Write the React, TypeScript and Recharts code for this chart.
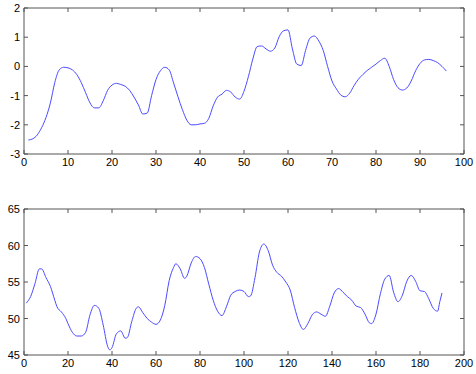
import React from 'react';
import { LineChart, Line, XAxis, YAxis, ReferenceLine } from 'recharts';

// top panel: samples 1..96
const topValues = [
  -2.52, -2.48, -2.35, -2.1, -1.75, -1.25, -0.55, -0.12, -0.03, -0.05,
  -0.12, -0.28, -0.55, -0.9, -1.25, -1.42, -1.42, -1.18, -0.82, -0.64,
  -0.58, -0.62, -0.68, -0.82, -1.05, -1.32, -1.63, -1.6, -1.0, -0.45,
  -0.15, -0.03, -0.12, -0.57, -1.04, -1.48, -1.84, -2.0, -2.0, -1.97,
  -1.95, -1.78, -1.35, -1.05, -0.95, -0.82, -0.88, -1.05, -1.12, -0.85,
  -0.35, 0.25, 0.68, 0.7, 0.6, 0.52, 0.63, 1.02, 1.22, 1.25,
  0.6, 0.08, 0.03, 0.55, 0.97, 1.04, 0.87, 0.55, 0.0, -0.5,
  -0.77, -0.98, -1.04, -0.92, -0.66, -0.44, -0.28, -0.14, -0.03, 0.08,
  0.2, 0.28, 0.0, -0.45, -0.73, -0.81, -0.74, -0.5, -0.15, 0.1,
  0.22, 0.24, 0.2, 0.13, 0.0, -0.16,
];
const topXTicks = [0, 10, 20, 30, 40, 50, 60, 70, 80, 90, 100];
const topYTicks = [-3, -2, -1, 0, 1, 2];

// bottom panel
const bottomX = [
  1, 3, 5, 7, 8, 10, 12, 14, 15, 17, 19, 20, 22, 24, 26, 28, 30, 32, 34, 36,
  38, 39, 40, 42, 44, 46, 47, 49, 51, 52, 54, 56, 58, 60, 62, 64, 66, 68, 69, 71,
  73, 74, 76, 78, 80, 82, 84, 86, 88, 90, 92, 94, 96, 98, 100, 102, 103, 105, 107, 109,
  111, 113, 115, 117, 119, 121, 123, 125, 127, 129, 131, 133, 135, 137, 139, 141, 143, 145, 147, 149,
  151, 153, 155, 157, 158, 160, 162, 164, 166, 168, 170, 172, 174, 176, 178, 180, 182, 184, 186, 188,
  189, 190,
];
const bottomValues = [
  52.1, 53.0, 54.8, 56.8, 56.8, 55.6, 54.4, 52.5, 51.6, 50.9, 50.0, 49.3, 48.1, 47.6, 47.6, 48.1, 50.5, 51.8, 51.4, 49.1,
  46.2, 45.7, 46.0, 47.9, 48.3, 47.3, 47.4, 49.6, 51.4, 51.6, 50.8, 50.0, 49.5, 49.2, 49.8, 51.8, 55.2, 57.0, 57.5, 56.8,
  55.5, 55.8, 57.6, 58.5, 58.2, 57.0, 54.7, 52.5, 51.0, 50.4, 51.6, 53.2, 53.7, 53.9, 53.7, 53.0, 53.1, 55.6, 59.1, 60.2,
  59.3, 57.3, 56.3, 55.8, 55.0, 53.9, 51.5, 49.5, 48.5, 49.3, 50.5, 50.9, 50.6, 50.3, 51.7, 53.5, 54.1, 53.6, 53.0, 52.5,
  51.7, 51.5, 50.6, 49.4, 49.3, 50.6, 53.4, 55.4, 55.9, 53.6, 52.3, 53.2, 55.1, 55.9, 55.1, 53.8, 53.7, 52.7, 51.4, 51.0,
  52.3, 53.5,
];
const bottomXTicks = [0, 20, 40, 60, 80, 100, 120, 140, 160, 180, 200];
const bottomYTicks = [45, 50, 55, 60, 65];

const topData = topValues.map((v, i) => ({ t: i + 1, v }));
const bottomData = bottomX.map((t, i) => ({ t, v: bottomValues[i] }));

const FRAME = '#555';
const LINE = '#4b4bff';
const FONT = '"Liberation Sans", Arial, sans-serif';
const TICK_LEN = 4;
// plot box size, from the margins below
const PLOT_W = 440;
const PLOT_H = 146;

// bottom tick also draws the matching tick on the top edge
const BottomTick = (props: any) => {
  const { x, y, payload } = props;
  return (
    <g>
      <line x1={x} y1={y} x2={x} y2={y - TICK_LEN} stroke={FRAME} />
      <line x1={x} y1={y - PLOT_H} x2={x} y2={y - PLOT_H + TICK_LEN} stroke={FRAME} />
      <text x={x} y={y + 12} textAnchor="middle" fontSize={11} fontFamily={FONT} fill="#000">
        {payload.value}
      </text>
    </g>
  );
};

// left tick also draws the matching tick on the right edge
const LeftTick = (props: any) => {
  const { x, y, payload } = props;
  return (
    <g>
      <line x1={x} y1={y} x2={x + TICK_LEN} y2={y} stroke={FRAME} />
      <line x1={x + PLOT_W} y1={y} x2={x + PLOT_W - TICK_LEN} y2={y} stroke={FRAME} />
      <text x={x - 4} y={y + 4} textAnchor="end" fontSize={11} fontFamily={FONT} fill="#000">
        {payload.value}
      </text>
    </g>
  );
};

function Panel({ data, xDomain, xTicks, yDomain, yTicks, height, margin }: any) {
  return (
    <LineChart width={476} height={height} data={data} margin={margin}>
      <XAxis
        dataKey="t"
        type="number"
        domain={xDomain}
        allowDataOverflow
        ticks={xTicks}
        interval={0}
        height={20}
        tickSize={0}
        tickMargin={0}
        tickLine={false}
        axisLine={{ stroke: FRAME }}
        tick={BottomTick}
      />
      <YAxis
        type="number"
        domain={yDomain}
        allowDataOverflow
        ticks={yTicks}
        interval={0}
        width={24}
        tickSize={0}
        tickMargin={0}
        tickLine={false}
        axisLine={{ stroke: FRAME }}
        tick={LeftTick}
      />
      <ReferenceLine y={yDomain[1]} stroke={FRAME} />
      <ReferenceLine x={xDomain[1]} stroke={FRAME} />
      <Line
        type="monotone"
        dataKey="v"
        stroke={LINE}
        strokeWidth={1}
        dot={false}
        isAnimationActive={false}
      />
    </LineChart>
  );
}

export default function App() {
  return (
    <div style={{ position: 'absolute', left: 0, top: 0, width: 476, height: 374, background: '#fff' }}>
      <div style={{ position: 'absolute', left: 0, top: 0 }}>
        <Panel
          data={topData}
          xDomain={[0, 100]}
          xTicks={topXTicks}
          yDomain={[-3, 2]}
          yTicks={topYTicks}
          height={180}
          margin={{ top: 8, right: 12, bottom: 6, left: 0 }}
        />
      </div>
      <div style={{ position: 'absolute', left: 0, top: 185 }}>
        <Panel
          data={bottomData}
          xDomain={[0, 200]}
          xTicks={bottomXTicks}
          yDomain={[45, 65]}
          yTicks={bottomYTicks}
          height={190}
          margin={{ top: 24, right: 12, bottom: 0, left: 0 }}
        />
      </div>
    </div>
  );
}
